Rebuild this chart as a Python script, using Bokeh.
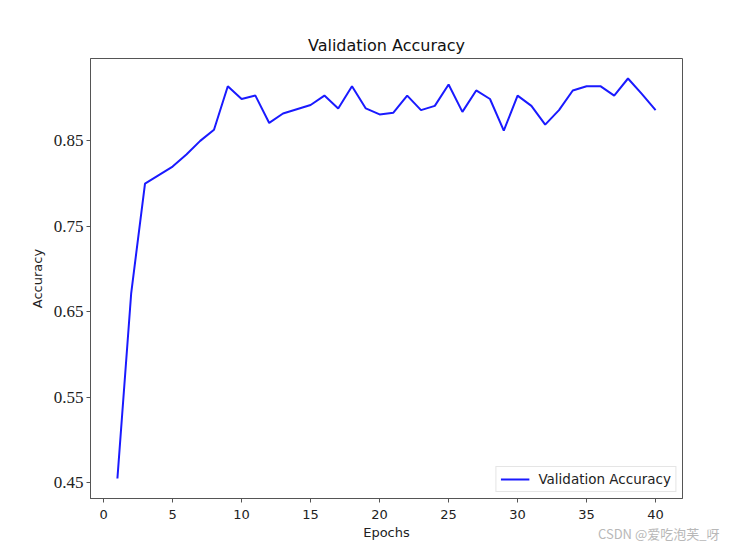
from bokeh.plotting import figure
from bokeh.models import FixedTicker, Range1d, Legend, LegendItem, Title, PrintfTickFormatter
from bokeh.embed import file_html
from bokeh.resources import INLINE

epochs = list(range(1, 41))
val_acc = [0.455, 0.672, 0.800, 0.810, 0.820, 0.834, 0.850, 0.863, 0.914, 0.899,
           0.903, 0.871, 0.882, 0.887, 0.892, 0.903, 0.888, 0.914, 0.888, 0.881,
           0.883, 0.903, 0.886, 0.891, 0.916, 0.884, 0.909, 0.899, 0.862, 0.903,
           0.891, 0.869, 0.886, 0.909, 0.914, 0.914, 0.903, 0.923, 0.905, 0.886]
x_ticks = [0, 5, 10, 15, 20, 25, 30, 35, 40]
y_ticks = [0.45, 0.55, 0.65, 0.75, 0.85]
title_text = "Validation Accuracy"
x_label = "Epochs"
y_label = "Accuracy"
legend_label = "Validation Accuracy"
watermark = "CSDN @爱吃泡芙_呀"

xmin, xmax = min(epochs), max(epochs)
ymin, ymax = min(val_acc), max(val_acc)
xpad = (xmax - xmin) * 0.05
ypad = (ymax - ymin) * 0.05

p = figure(width=732, height=545, output_backend="svg", toolbar_location=None,
           x_range=Range1d(xmin - xpad, xmax + xpad),
           y_range=Range1d(ymin - ypad, ymax + ypad),
           min_border_left=90, min_border_right=50, min_border_top=58, min_border_bottom=47)
p.background_fill_color = "white"
p.border_fill_color = "white"
p.outline_line_color = "#555555"
p.outline_line_width = 1
p.xgrid.visible = False
p.ygrid.visible = False

p.title.text = title_text
p.title.align = "center"
p.title.text_font = "DejaVu Sans"
p.title.text_font_size = "16px"
p.title.text_font_style = "normal"
p.title.text_color = "#111111"
p.title.standoff = 8

r = p.line(epochs, val_acc, line_color="#1a1aff", line_width=2)

xa = p.xaxis[0]
xa.ticker = FixedTicker(ticks=x_ticks)
xa.axis_label = x_label
xa.axis_label_text_font = "DejaVu Sans"
xa.axis_label_text_font_size = "13px"
xa.axis_label_text_font_style = "normal"
xa.axis_label_text_color = "#222222"
xa.axis_label_standoff = 3
xa.major_label_text_font = "DejaVu Sans"
xa.major_label_text_font_size = "13px"
xa.major_label_text_color = "#222222"
xa.major_label_standoff = 7
xa.minor_tick_line_color = None
xa.major_tick_out = 4
xa.major_tick_in = 0
xa.axis_line_color = "#555555"
xa.major_tick_line_color = "#555555"

ya = p.yaxis[0]
ya.ticker = FixedTicker(ticks=y_ticks)
ya.formatter = PrintfTickFormatter(format="%.2f")
ya.axis_label = y_label
ya.axis_label_text_font = "DejaVu Sans"
ya.axis_label_text_font_size = "13px"
ya.axis_label_text_font_style = "normal"
ya.axis_label_text_color = "#222222"
ya.axis_label_standoff = 6
ya.major_label_text_font = "Liberation Serif"
ya.major_label_text_font_size = "17px"
ya.major_label_text_color = "#222222"
ya.major_label_standoff = 3
ya.minor_tick_line_color = None
ya.major_tick_out = 4
ya.major_tick_in = 0
ya.axis_line_color = "#555555"
ya.major_tick_line_color = "#555555"

legend = Legend(items=[LegendItem(label=legend_label, renderers=[r])],
                location="bottom_right")
legend.label_text_font = "DejaVu Sans"
legend.label_text_font_size = "13.5px"
legend.label_text_color = "#222222"
legend.border_line_color = "#cccccc"
legend.border_line_width = 1
legend.margin = 6
legend.padding = 4
legend.glyph_width = 29
legend.glyph_height = 16
legend.label_standoff = 9
legend.background_fill_alpha = 0.9
p.add_layout(legend)

wm = Title(text=watermark, align="right", offset=-37, vertical_align="top",
           text_font="Noto Sans CJK SC", text_font_size="13px", text_color="#b8b8b8",
           text_font_style="normal")
wm.standoff = -38
p.add_layout(wm, "below")

open("out.html", "w").write(file_html(p, INLINE))
